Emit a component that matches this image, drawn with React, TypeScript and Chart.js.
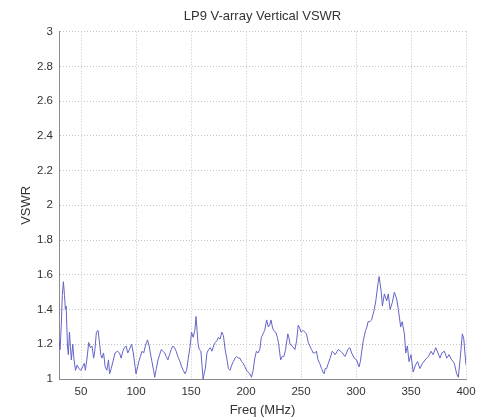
import React, { useEffect, useRef } from "react";
import { Chart, registerables } from "chart.js";

Chart.register(...registerables);

const titleText = "LP9 V-array Vertical VSWR";
const xLabel = "Freq (MHz)";
const yLabel = "VSWR";
const xTicks = [50, 100, 150, 200, 250, 300, 350, 400];

const freqMHz = [
  30, 31, 32, 33, 34, 35, 35.8, 36.5, 37.7, 38.5, 39.5, 40.5, 41.2, 42.5, 43.5, 45, 46.5, 48, 50, 51.5,
  53, 54, 55.5, 57, 58.5, 60, 61.5, 62.5, 64, 65.5, 67, 68, 69, 70.5, 72, 73.5, 75, 76, 77.5, 79,
  81, 83, 85, 86.5, 88, 89.5, 91, 92.5, 94, 96, 97.5, 99, 100, 101.5, 102.5, 104, 105.5, 107, 108.5, 110.5,
  112, 113, 114.5, 116, 117, 118.5, 120, 121.5, 123, 124.5, 126, 127.5, 129, 130.5, 132, 133.5, 135, 136.5, 138, 140,
  141.5, 143, 144.5, 146, 147.5, 149, 150.5, 152, 153.5, 154.6, 155.5, 156.5, 157.5, 159, 160, 161, 162, 163, 164.5, 166,
  167.5, 169, 170.5, 172, 173.5, 175, 176.5, 178, 179.5, 181, 182.5, 184, 185.5, 187, 188.5, 190, 191.5, 193, 194.5, 196,
  197.5, 199, 200.5, 202, 203.5, 205, 206.5, 208, 209.5, 211, 212.5, 214, 215.5, 217, 218.8, 220.3, 221.5, 222.7, 224, 225,
  227, 228.5, 229.5, 231.5, 233, 234.5, 236, 238, 239, 240, 242, 244.5, 246, 247.5, 249, 250, 252, 253.5, 255, 256.6,
  258, 259.6, 261, 262.5, 264, 265.5, 267, 268.7, 270, 271, 272, 273.3, 274.8, 276.5, 278.4, 280, 281, 283, 284, 286,
  287.5, 290, 291.5, 292.5, 294.5, 296, 298.4, 300.5, 302.7, 304, 305, 306.6, 308.7, 310, 311, 312.5, 314.2, 316.6, 318, 319,
  320, 321, 322.8, 324, 325.8, 327.9, 329.4, 331, 333, 334.9, 337, 338.5, 340.6, 342, 344, 345.2, 346.7, 348.2, 350, 352,
  354, 356, 358, 360.5, 362.8, 365.8, 368.2, 370, 372.5, 374.5, 376.4, 378, 380.3, 382.5, 384.6, 387, 389.4, 391.5, 393, 394.6,
  396.7, 398, 399, 400,
];

const vswr = [
  1.22, 1.17, 1.3, 1.48, 1.56, 1.48, 1.4, 1.42, 1.19, 1.14, 1.27, 1.18, 1.11, 1.2, 1.12, 1.05, 1.08, 1.06, 1.05, 1.07,
  1.09, 1.05, 1.12, 1.21, 1.18, 1.19, 1.12, 1.16, 1.27, 1.28, 1.2, 1.14, 1.12, 1.15, 1.07, 1.05, 1.11, 1.03, 1.06, 1.1,
  1.15, 1.16, 1.15, 1.12, 1.16, 1.18, 1.19, 1.15, 1.17, 1.2, 1.15, 1.08, 1.03, 1.07, 1.1, 1.13, 1.16, 1.15, 1.19, 1.225,
  1.19, 1.15, 1.1, 1.05, 1.01, 1.06, 1.11, 1.14, 1.17, 1.16, 1.15, 1.13, 1.11, 1.14, 1.17, 1.19, 1.18, 1.16, 1.13, 1.1,
  1.07, 1.05, 1.03, 1.05, 1.12, 1.18, 1.27, 1.24, 1.28, 1.36, 1.28, 1.2, 1.17, 1.16, 1.08, 1.0, 1.03, 1.06, 1.15, 1.17,
  1.18, 1.16, 1.19, 1.21, 1.22, 1.24, 1.23, 1.27, 1.25, 1.17, 1.12, 1.06, 1.05, 1.08, 1.1, 1.12, 1.13, 1.12, 1.12, 1.1,
  1.09, 1.07, 1.05, 1.04, 1.03, 1.01, 1.05, 1.12, 1.16, 1.15, 1.17, 1.24, 1.26, 1.28, 1.34, 1.3, 1.31, 1.34, 1.3, 1.28,
  1.27, 1.24, 1.21, 1.11, 1.13, 1.13, 1.17, 1.26, 1.24, 1.2, 1.19, 1.17, 1.22, 1.31, 1.29, 1.27, 1.28, 1.27, 1.26, 1.21,
  1.19, 1.17, 1.15, 1.15, 1.16, 1.11, 1.09, 1.06, 1.04, 1.03, 1.06, 1.06, 1.09, 1.12, 1.16, 1.15, 1.14, 1.16, 1.17, 1.16,
  1.15, 1.13, 1.15, 1.17, 1.18, 1.15, 1.12, 1.11, 1.07, 1.1, 1.15, 1.22, 1.28, 1.3, 1.33, 1.33, 1.34, 1.4, 1.45, 1.5,
  1.55, 1.59, 1.51, 1.42, 1.49, 1.45, 1.49, 1.4, 1.44, 1.5, 1.46, 1.4, 1.3, 1.33, 1.26, 1.15, 1.19, 1.1, 1.14, 1.04,
  1.08, 1.1, 1.06, 1.09, 1.11, 1.13, 1.16, 1.14, 1.18, 1.15, 1.12, 1.15, 1.16, 1.12, 1.14, 1.11, 1.09, 1.03, 1.01, 1.11,
  1.26, 1.23, 1.15, 1.08,
];

const FONT = "'Liberation Sans', Arial, sans-serif";
const TEXT = "#333333";
const GRID = "#c4c4c4";

export default function App() {
  const ref = useRef<HTMLCanvasElement | null>(null);

  useEffect(() => {
    if (!ref.current) return;
    const points = freqMHz.map((f, i) => ({ x: f, y: vswr[i] }));
    const chart = new Chart(ref.current, {
      type: "line",
      data: {
        datasets: [
          {
            data: points,
            borderColor: "#6464c8",
            borderWidth: 1,
            pointRadius: 0,
            tension: 0,
            fill: false,
          },
        ],
      },
      options: {
        animation: false,
        responsive: false,
        layout: { padding: { left: 0, right: 22, top: 0, bottom: 0 } },
        plugins: {
          legend: { display: false },
          tooltip: { enabled: false },
          title: {
            display: true,
            text: titleText,
            fullSize: false,
            color: TEXT,
            font: { family: FONT, size: 13, weight: "normal" },
            padding: { top: 9, bottom: 7 },
          },
        },
        scales: {
          x: {
            type: "linear",
            min: 30,
            max: 400,
            afterBuildTicks: (scale: any) => {
              scale.ticks = xTicks.map((v) => ({ value: v }));
            },
            afterFit: (scale: any) => {
              scale.height = 41;
            },
            ticks: {
              color: TEXT,
              font: { family: FONT, size: 11.5 },
              padding: 6,
              maxRotation: 0,
              autoSkip: false,
            },
            grid: {
              color: GRID,
              drawTicks: false,
            },
            border: { display: true, color: "#8a8a8a", width: 1, dash: [1, 2] },
            title: {
              display: true,
              text: xLabel,
              color: TEXT,
              font: { family: FONT, size: 13 },
              padding: { top: 0, bottom: 2 },
            },
          },
          y: {
            type: "linear",
            min: 1,
            max: 3,
            afterFit: (scale: any) => {
              scale.width = 59;
            },
            ticks: {
              stepSize: 0.2,
              color: TEXT,
              font: { family: FONT, size: 11.5 },
              padding: 6,
              callback: (v: any) => String(parseFloat(Number(v).toFixed(1))),
            },
            grid: {
              color: GRID,
              drawTicks: false,
            },
            border: { display: true, color: "#8a8a8a", width: 1, dash: [1, 2] },
            title: {
              display: true,
              text: yLabel,
              color: TEXT,
              font: { family: FONT, size: 13 },
              padding: { top: 19, bottom: 0 },
            },
          },
        },
      },
    } as any);
    return () => chart.destroy();
  }, []);

  return (
    <div style={{ position: "absolute", left: 0, top: 0, width: 488, height: 420, background: "#fff" }}>
      <canvas ref={ref} width={488} height={420} style={{ display: "block" }} />
    </div>
  );
}
